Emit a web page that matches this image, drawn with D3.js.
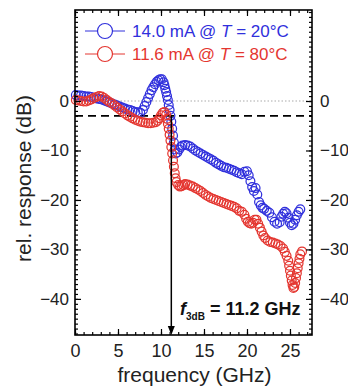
<!DOCTYPE html>
<html>
<head>
<meta charset="utf-8">
<script src="https://cdn.jsdelivr.net/npm/d3@7"></script>
<style>
  body { margin: 0; background: #fff; }
  svg { display: block; font-family: "Liberation Sans", Arial, sans-serif; }
</style>
</head>
<body>
<svg id="chart" width="348" height="390"></svg>
<script>
// T = 20°C, 14.0 mA : [frequency GHz, response dB]
const blue20 = [
  [0.1, 1.2], [0.4, 1.1], [0.7, 1.1], [1.0, 1.0], [1.3, 0.9], [1.6, 0.9], [1.9, 0.8],
  [2.2, 0.6], [2.5, 0.5], [2.8, 0.4], [3.1, 0.3], [3.4, 0.1], [3.7, -0.1], [4.0, -0.3],
  [4.3, -0.5], [4.6, -0.7], [4.9, -0.9], [5.2, -1.1], [5.5, -1.3], [5.8, -1.5], [6.1, -1.7],
  [6.4, -1.8], [6.7, -2.0], [7.0, -2.2], [7.3, -2.3], [7.6, -2.4], [7.9, -1.8], [8.1, -1.0],
  [8.3, -0.2], [8.5, 0.6], [8.7, 1.4], [8.9, 2.2], [9.1, 2.8], [9.3, 3.4], [9.5, 3.9],
  [9.7, 4.2], [9.9, 4.4], [10.1, 4.4], [10.3, 3.8], [10.4, 3.2], [10.5, 2.5], [10.6, 1.8],
  [10.7, 1.0], [10.8, 0.2], [10.9, -0.8], [11.0, -1.8], [11.1, -3.0], [11.2, -4.2],
  [11.3, -5.6], [11.4, -7.0], [11.5, -8.4], [11.6, -9.8], [11.7, -10.6], [11.9, -10.4],
  [12.1, -9.8], [12.3, -9.3], [12.5, -9.0], [12.8, -8.9], [13.1, -9.0], [13.4, -9.2],
  [13.7, -9.6], [14.0, -10.0], [14.3, -10.3], [14.6, -10.6], [14.9, -10.9], [15.2, -11.2],
  [15.5, -11.5], [15.8, -11.8], [16.1, -12.1], [16.4, -12.5], [16.7, -12.8], [17.0, -13.1],
  [17.3, -13.4], [17.6, -13.5], [17.9, -13.7], [18.2, -13.9], [18.5, -14.1], [18.8, -14.4],
  [19.1, -14.6], [19.4, -14.8], [19.7, -14.3], [20.0, -14.2], [20.2, -15.0], [20.4, -16.2],
  [20.6, -17.4], [20.8, -18.2], [21.0, -17.6], [21.2, -18.9], [21.4, -20.4], [21.6, -21.1],
  [21.8, -21.6], [22.0, -21.8], [22.3, -22.2], [22.6, -22.6], [22.9, -23.5], [23.2, -24.4],
  [23.5, -24.8], [23.8, -24.5], [24.0, -23.4], [24.2, -22.8], [24.4, -22.4], [24.6, -22.7],
  [24.8, -23.6], [25.0, -24.6], [25.2, -25.1], [25.4, -24.8], [25.6, -24.0], [25.8, -23.1],
  [26.0, -22.4], [26.2, -21.9]
];

// T = 80°C, 11.6 mA
const red80 = [
  [0.1, 0.2], [0.4, 0.1], [0.7, 0.0], [1.0, -0.1], [1.3, -0.1], [1.6, 0.1], [1.9, 0.3],
  [2.2, 0.6], [2.5, 0.8], [2.8, 1.0], [3.1, 0.9], [3.4, 0.6], [3.7, 0.2], [4.0, -0.2],
  [4.3, -0.5], [4.6, -0.9], [4.9, -1.3], [5.2, -1.7], [5.5, -2.1], [5.8, -2.5], [6.1, -2.9],
  [6.4, -3.2], [6.7, -3.5], [7.0, -3.8], [7.3, -4.0], [7.6, -4.2], [7.9, -4.3], [8.2, -4.4],
  [8.5, -4.5], [8.8, -4.5], [9.1, -4.4], [9.4, -4.3], [9.6, -4.0], [9.8, -3.5], [10.0, -2.9],
  [10.2, -2.4], [10.4, -2.2], [10.6, -2.8], [10.7, -3.6], [10.8, -4.6], [10.9, -5.6],
  [11.0, -6.8], [11.1, -8.0], [11.2, -9.3], [11.3, -10.6], [11.4, -12.0], [11.5, -13.3],
  [11.6, -14.6], [11.7, -15.6], [11.8, -16.4], [12.0, -17.0], [12.2, -17.3], [12.4, -17.2],
  [12.6, -17.0], [12.8, -16.8], [13.1, -16.9], [13.4, -17.1], [13.7, -17.3], [14.0, -17.6],
  [14.3, -17.9], [14.6, -18.2], [14.9, -18.6], [15.2, -19.0], [15.5, -19.3], [15.8, -19.6],
  [16.1, -19.8], [16.4, -20.0], [16.7, -20.2], [17.0, -20.4], [17.3, -20.6], [17.6, -20.8],
  [17.9, -21.0], [18.2, -21.2], [18.5, -21.4], [18.8, -21.7], [19.1, -22.2], [19.4, -22.4],
  [19.7, -23.0], [19.9, -23.8], [20.1, -24.4], [20.3, -24.7], [20.5, -24.8], [20.7, -24.6],
  [20.9, -24.0], [21.1, -24.0], [21.3, -24.8], [21.5, -25.6], [21.7, -26.4], [21.9, -27.2],
  [22.1, -27.7], [22.4, -28.2], [22.7, -28.5], [23.0, -28.6], [23.3, -28.8], [23.6, -29.0],
  [23.9, -29.3], [24.2, -29.8], [24.4, -30.5], [24.6, -31.3], [24.8, -32.3], [24.9, -33.3],
  [25.0, -34.3], [25.1, -35.3], [25.2, -36.3], [25.3, -37.2], [25.4, -37.8], [25.5, -37.6],
  [25.6, -36.8], [25.7, -35.8], [25.8, -34.8], [25.9, -33.8], [26.0, -32.8], [26.1, -31.9],
  [26.2, -31.0], [26.4, -30.4]
];

const xTicks = [0, 5, 10, 15, 20, 25];
const yTicks = [0, -10, -20, -30, -40];
const f3dB = 11.2;
const level3dB = -3;

const series = [
  { name: "14.0 mA @ ", temp: "20°C", color: "#3030dc", data: blue20 },
  { name: "11.6 mA @ ", temp: "80°C", color: "#e43630", data: red80 }
];

const svg = d3.select("#chart");
const plotLeft = 75, plotRight = 312, plotTop = 10, plotBottom = 335;

const x = d3.scaleLinear().domain([0, 27.56]).range([plotLeft, plotRight]);
const y = d3.scaleLinear().domain([-47.3, 18.4]).range([plotBottom, plotTop]);

// reference lines
svg.append("line")
  .attr("x1", plotLeft).attr("x2", plotRight)
  .attr("y1", y(0)).attr("y2", y(0))
  .attr("stroke", "#aaa").attr("stroke-width", 1.2)
  .attr("stroke-dasharray", "1.5,2");

svg.append("line")
  .attr("x1", plotLeft).attr("x2", plotRight)
  .attr("y1", y(level3dB)).attr("y2", y(level3dB))
  .attr("stroke", "#000").attr("stroke-width", 1.6)
  .attr("stroke-dasharray", "8,5");

// data markers
series.forEach((s) => {
  svg.append("g")
    .selectAll("circle")
    .data(s.data)
    .enter()
    .append("circle")
    .attr("cx", (d) => x(d[0]))
    .attr("cy", (d) => y(d[1]))
    .attr("r", 4.4)
    .attr("fill", "none")
    .attr("stroke", s.color)
    .attr("stroke-width", 1.25);
});

// f3dB arrow
svg.append("line")
  .attr("x1", x(f3dB)).attr("x2", x(f3dB))
  .attr("y1", y(level3dB)).attr("y2", plotBottom - 7)
  .attr("stroke", "#000").attr("stroke-width", 1.5);
svg.append("path")
  .attr("d", d3.line()([[x(f3dB) - 3.5, plotBottom - 9], [x(f3dB) + 3.5, plotBottom - 9], [x(f3dB), plotBottom]]))
  .attr("fill", "#000");

// axes (ticks drawn inward on all four sides)
const minorX = d3.range(0, 28, 1);
const minorY = d3.range(-47, 19, 1);

const addAxis = (axis, tx, ty) => {
  const g = svg.append("g").attr("transform", `translate(${tx},${ty})`).call(axis);
  g.select(".domain").remove();
  g.selectAll("line").attr("stroke", "#000").attr("stroke-width", 1.2);
  g.selectAll("text").attr("font-size", 17).attr("fill", "#222");
  return g;
};

addAxis(d3.axisBottom(x).tickValues(minorX).tickSize(-3).tickFormat(""), 0, plotBottom);
addAxis(d3.axisTop(x).tickValues(minorX).tickSize(-3).tickFormat(""), 0, plotTop);
addAxis(d3.axisBottom(x).tickValues(xTicks).tickSize(-6).tickPadding(9).tickFormat(d3.format("d")), 0, plotBottom)
  .selectAll("text").attr("font-size", 18);
addAxis(d3.axisTop(x).tickValues(xTicks).tickSize(-6).tickFormat(""), 0, plotTop);

addAxis(d3.axisLeft(y).tickValues(minorY).tickSize(-3).tickFormat(""), plotLeft, 0);
addAxis(d3.axisRight(y).tickValues(minorY).tickSize(-3).tickFormat(""), plotRight, 0);
addAxis(d3.axisLeft(y).tickValues(yTicks).tickSize(-6).tickPadding(6).tickFormat(d3.format("d")), plotLeft, 0);
addAxis(d3.axisRight(y).tickValues(yTicks).tickSize(-6).tickPadding(8).tickFormat(d3.format("d")), plotRight, 0);

svg.append("rect")
  .attr("x", plotLeft).attr("y", plotTop)
  .attr("width", plotRight - plotLeft).attr("height", plotBottom - plotTop)
  .attr("fill", "none").attr("stroke", "#000").attr("stroke-width", 1.6);

// axis titles
svg.append("text")
  .attr("x", (plotLeft + plotRight) / 2 + 1).attr("y", 382)
  .attr("text-anchor", "middle").attr("font-size", 21).attr("fill", "#222")
  .text("frequency (GHz)");

svg.append("text")
  .attr("transform", `translate(31,${(plotTop + plotBottom) / 2 + 6}) rotate(-90)`)
  .attr("text-anchor", "middle").attr("font-size", 21).attr("fill", "#222")
  .text("rel. response (dB)");

// legend
series.forEach((s, i) => {
  const ly = 31 + i * 23;
  svg.append("line")
    .attr("x1", 85).attr("x2", 125).attr("y1", ly).attr("y2", ly)
    .attr("stroke", s.color).attr("stroke-width", 1);
  svg.append("circle")
    .attr("cx", 105).attr("cy", ly).attr("r", 7.5)
    .attr("fill", "#fff").attr("stroke", s.color).attr("stroke-width", 1.2);
  const t = svg.append("text")
    .attr("x", 132).attr("y", ly + 6)
    .attr("font-size", 17).attr("fill", s.color);
  t.append("tspan").text(s.name);
  t.append("tspan").attr("font-style", "italic").text("T");
  t.append("tspan").text(" = " + s.temp);
});

// f3dB annotation
const ann = svg.append("text")
  .attr("x", 180).attr("y", 315)
  .attr("font-size", 18).attr("font-weight", "bold").attr("fill", "#111");
ann.append("tspan").attr("font-style", "italic").text("f");
ann.append("tspan").attr("font-size", 10).attr("dy", 5).text("3dB");
ann.append("tspan").attr("dy", -5).text(" = " + f3dB + " GHz");
</script>
</body>
</html>
